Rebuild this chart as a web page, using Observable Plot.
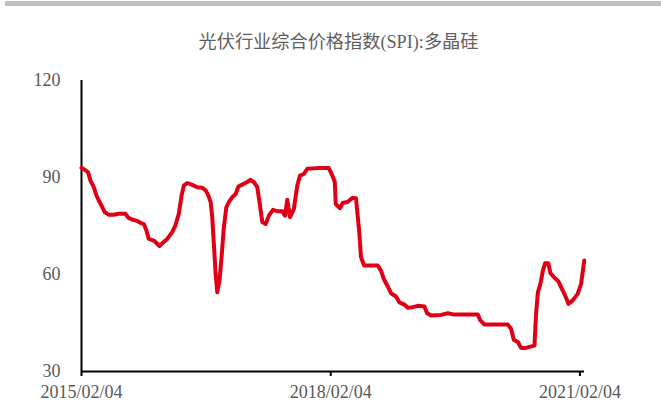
<!DOCTYPE html>
<html>
<head>
<meta charset="utf-8">
<script src="https://cdn.jsdelivr.net/npm/d3@7"></script>
<script src="https://cdn.jsdelivr.net/npm/@observablehq/plot@0.6"></script>
<style>
  html, body { margin: 0; padding: 0; background: #fff; }
  #wrap { position: relative; width: 661px; height: 412px; overflow: hidden; }
  #topbar { position: absolute; left: 5px; top: 1px; width: 656px; height: 5px; background: #c0c0c0; }
  #title { position: absolute; left: 0; width: 677px; top: 27px; text-align: center;
           font-family: "Liberation Serif", "Noto Sans CJK SC", serif; font-size: 18.2px; color: #5f5f5f; }
  svg text { fill: #595959; }
</style>
</head>
<body>
<div id="wrap">
  <div id="topbar"></div>
  <div id="title">光伏行业综合价格指数(SPI):多晶硅</div>
  <div id="chart"></div>
</div>
<script>
const title = "光伏行业综合价格指数(SPI):多晶硅";
const dates = [
"2015-02-04","2015-02-22","2015-03-05","2015-03-15","2015-03-30","2015-04-10","2015-04-21","2015-05-03",
"2015-05-17","2015-06-03","2015-06-25","2015-07-18","2015-08-16","2015-08-28","2015-09-14","2015-10-06",
"2015-10-21","2015-11-05","2015-11-15","2015-11-27","2015-12-19","2016-01-03","2016-01-13","2016-01-28",
"2016-02-16","2016-03-09","2016-03-23","2016-04-07","2016-04-19","2016-04-29","2016-05-14","2016-06-05",
"2016-06-27","2016-07-19","2016-08-03","2016-08-15","2016-08-25","2016-09-01","2016-09-08","2016-09-16",
"2016-09-23","2016-10-03","2016-10-12","2016-10-22","2016-11-02","2016-11-13","2016-11-28","2016-12-13",
"2016-12-25","2017-01-11","2017-02-02","2017-02-17","2017-03-03","2017-03-18","2017-03-29","2017-04-09",
"2017-04-24","2017-05-08","2017-05-26","2017-06-14","2017-07-06","2017-07-18","2017-07-28","2017-08-09",
"2017-08-26","2017-09-10","2017-09-22","2017-10-09","2017-10-24","2017-12-07","2018-01-27","2018-02-11",
"2018-02-22","2018-02-26","2018-03-08","2018-03-17","2018-03-28","2018-04-19","2018-05-11","2018-05-26",
"2018-06-09","2018-06-17","2018-07-01","2018-07-31","2018-08-30","2018-09-13","2018-09-25","2018-10-13",
"2018-10-27","2018-11-18","2018-12-03","2018-12-25","2019-01-09","2019-01-31","2019-02-22","2019-03-23",
"2019-04-04","2019-04-21","2019-06-04","2019-07-04","2019-08-02","2019-09-30","2019-11-13","2019-11-24",
"2019-12-12","2020-01-25","2020-03-24","2020-04-07","2020-04-19","2020-05-07","2020-05-21","2020-06-12",
"2020-07-01","2020-07-19","2020-07-26","2020-08-03","2020-08-14","2020-08-25","2020-09-04","2020-09-18",
"2020-09-27","2020-10-15","2020-11-01","2020-11-20","2020-12-04","2020-12-15","2021-01-03","2021-01-25",
"2021-02-09","2021-02-23"];
const values = [
93.0,92.2,91.6,89.1,87.0,84.6,82.9,81.3,
79.3,78.5,78.5,78.8,78.8,77.6,77.0,76.6,
76.0,75.6,73.9,71.0,70.5,69.5,68.8,69.8,
71.0,73.1,75.2,78.8,84.4,87.5,88.3,87.7,
87.0,86.8,86.0,84.4,82.4,77.7,69.5,60.2,
54.5,58.1,65.4,74.6,80.8,82.4,83.9,84.9,
87.2,87.8,88.6,89.3,88.6,87.0,81.8,76.2,
75.6,78.2,80.0,79.6,79.6,78.2,83.1,77.7,
80.3,87.5,90.6,91.1,92.7,92.9,92.9,90.6,
88.6,81.8,81.1,80.5,82.1,82.4,83.7,83.6,
73.6,65.4,62.8,62.8,62.8,61.2,58.7,56.3,
54.2,53.2,51.4,50.7,49.7,49.9,50.3,50.1,
48.0,47.3,47.5,48.0,47.6,47.6,47.6,45.8,
44.5,44.5,44.5,43.2,39.8,39.1,37.3,37.3,
37.7,38.0,47.8,54.5,57.1,61.2,63.5,63.5,
60.4,59.0,57.9,55.1,53.0,50.9,52.0,54.0,
57.1,64.3];
const xTickLabels = ["2015/02/04","2018/02/04","2021/02/04"];
const yTicks = [30, 60, 90, 120];

const parse = d3.utcParse("%Y-%m-%d");
const data = dates.map((d, i) => ({date: parse(d), value: values[i]}));
const xTicks = xTickLabels.map(s => d3.utcParse("%Y/%m/%d")(s));
const x0 = xTicks[0];
const xEnd = parse("2021-02-24");

const chart = Plot.plot({
  width: 661,
  height: 412,
  marginLeft: 81,
  marginRight: 77,
  marginTop: 80,
  marginBottom: 41,
  style: {fontFamily: "'Liberation Serif', 'Times New Roman', serif", fontSize: "18px", background: "transparent"},
  x: {type: "utc", domain: [x0, xEnd]},
  y: {domain: [30, 120]},
  marks: [
    Plot.axisY({ticks: yTicks, tickSize: 0, tickPadding: 21, fontSize: 18, label: null}),
    Plot.axisX({ticks: xTicks, tickSize: 5, tickPadding: 9, tickFormat: d3.utcFormat("%Y/%m/%d"),
                fontSize: 18, label: null, stroke: "black", strokeWidth: 2}),
    Plot.ruleX([x0], {y1: 30, y2: 120, stroke: "black", strokeWidth: 2}),
    Plot.ruleY([30], {x1: x0, x2: xEnd, stroke: "black", strokeWidth: 2}),
    Plot.line(data, {x: "date", y: "value", stroke: "#e00016", strokeWidth: 4, curve: "linear"})
  ]
});
document.getElementById("chart").appendChild(chart);
</script>
</body>
</html>
